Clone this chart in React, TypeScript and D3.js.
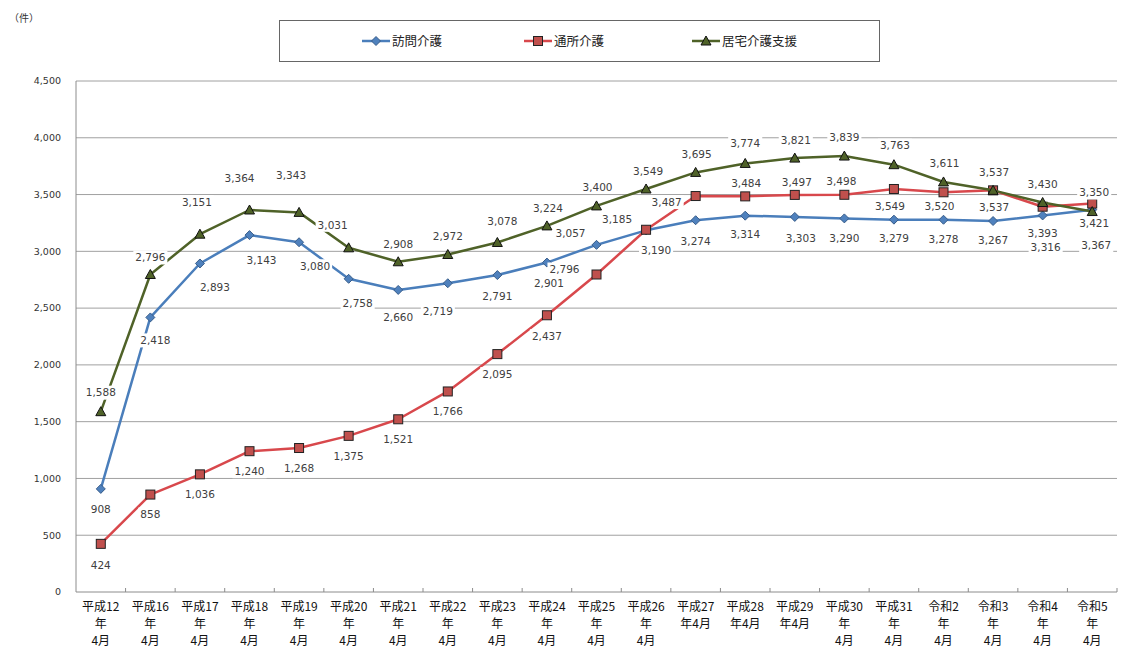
import * as d3 from 'd3'

const WIDTH = 1121
const HEIGHT = 654
const PLOT = { left: 76, right: 1117, top: 81, bottom: 592 }

const CATEGORIES = [
  ['平成12', '年', '4月'],
  ['平成16', '年', '4月'],
  ['平成17', '年', '4月'],
  ['平成18', '年', '4月'],
  ['平成19', '年', '4月'],
  ['平成20', '年', '4月'],
  ['平成21', '年', '4月'],
  ['平成22', '年', '4月'],
  ['平成23', '年', '4月'],
  ['平成24', '年', '4月'],
  ['平成25', '年', '4月'],
  ['平成26', '年', '4月'],
  ['平成27', '年4月'],
  ['平成28', '年4月'],
  ['平成29', '年4月'],
  ['平成30', '年', '4月'],
  ['平成31', '年', '4月'],
  ['令和2', '年', '4月'],
  ['令和3', '年', '4月'],
  ['令和4', '年', '4月'],
  ['令和5', '年', '4月'],
]

const HOMON = [908, 2418, 2893, 3143, 3080, 2758, 2660, 2719, 2791, 2901, 3057, 3185, 3274, 3314, 3303, 3290, 3279, 3278, 3267, 3316, 3367]
const TSUSHO = [424, 858, 1036, 1240, 1268, 1375, 1521, 1766, 2095, 2437, 2796, 3190, 3487, 3484, 3497, 3498, 3549, 3520, 3537, 3393, 3421]
const KYOTAKU = [1588, 2796, 3151, 3364, 3343, 3031, 2908, 2972, 3078, 3224, 3400, 3549, 3695, 3774, 3821, 3839, 3763, 3611, 3537, 3430, 3350]

const Y_TICKS = [0, 500, 1000, 1500, 2000, 2500, 3000, 3500, 4000, 4500]

// label placement (dx, dy from the point)
const HOMON_LABEL_POS = [[0, 20], [5, 23], [15, 24], [12, 25], [16, 24], [9, 24], [0, 27], [-10, 28], [0, 21], [2, 21], [-26, -12], [-29, -11], [0, 21], [0, 19], [6, 21], [0, 20], [0, 19], [0, 19], [0, 19], [3, 32], [4, 36]]
const TSUSHO_LABEL_POS = [[0, 21], [0, 20], [0, 20], [0, 20], [0, 20], [0, 20], [0, 20], [0, 20], [0, 20], [0, 21], [-32, -5], [10, 20], [-29, 6], [1, -13], [2, -13], [-3, -14], [-4, 17], [-4, 14], [1, 17], [0, 27], [2, 20]]
const KYOTAKU_LABEL_POS = [[0, -19], [0, -17], [-3, -32], [-10, -32], [-8, -37], [-16, -23], [0, -18], [0, -18], [5, -21], [1, -18], [1, -19], [2, -18], [1, -18], [0, -20], [1, -18], [0, -19], [1, -19], [1, -19], [1, -18], [0, -18], [2, -19]]

type Marker = 'diamond' | 'square' | 'triangle'

const SERIES = [
  { name: '訪問介護', values: HOMON, labelPos: HOMON_LABEL_POS, line: '#4A7EBB', fill: '#4F81BD', edge: '#385D8A', marker: 'diamond' as Marker, legendX: 362 },
  { name: '通所介護', values: TSUSHO, labelPos: TSUSHO_LABEL_POS, line: '#D8484C', fill: '#C0504D', edge: '#222', marker: 'square' as Marker, legendX: 524 },
  { name: '居宅介護支援', values: KYOTAKU, labelPos: KYOTAKU_LABEL_POS, line: '#4F6228', fill: '#4F6228', edge: '#111', marker: 'triangle' as Marker, legendX: 692 },
]

const NUM_FONT = '"DejaVu Sans", Verdana, sans-serif'
const JP_FONT = '"Noto Sans CJK JP", "Noto Sans", sans-serif'

const fmt = d3.format(',')

function MarkerShape({ type, x, y, fill, edge }: { type: Marker; x: number; y: number; fill: string; edge: string }) {
  if (type === 'diamond') {
    const s = 4.5
    return <path d={`M${x},${y - s}L${x + s},${y}L${x},${y + s}L${x - s},${y}Z`} fill={fill} stroke={edge} strokeWidth={1} />
  }
  if (type === 'square') {
    const s = 4.5
    return <rect x={x - s} y={y - s} width={s * 2} height={s * 2} fill={fill} stroke={edge} strokeWidth={1} />
  }
  const s = 5
  return <path d={`M${x},${y - s}L${x + s},${y + s * 0.8}L${x - s},${y + s * 0.8}Z`} fill={fill} stroke={edge} strokeWidth={1} />
}

function textWidth(s: string) {
  // DejaVu Sans at 10.5px: digits ~6.7px, comma ~3.3px
  let w = 0
  for (const c of s) w += c === ',' ? 3.3 : 6.7
  return w
}

export default function App() {
  const x = d3
    .scaleBand<number>()
    .domain(d3.range(CATEGORIES.length))
    .range([PLOT.left, PLOT.right])
  const cx = (i: number) => (x(i) ?? 0) + x.bandwidth() / 2

  const y = d3.scaleLinear().domain([0, 4500]).range([PLOT.bottom, PLOT.top])

  const line = d3
    .line<number>()
    .x((_, i) => cx(i))
    .y((v) => y(v))

  const boundaries = d3.range(1, CATEGORIES.length + 1).map((i) => PLOT.left + i * x.bandwidth())

  return (
    <div style={{ position: 'absolute', left: 0, top: 0 }}>
      <svg width={WIDTH} height={HEIGHT} viewBox={`0 0 ${WIDTH} ${HEIGHT}`} style={{ display: 'block', background: '#fff' }}>
        {/* unit */}
        <text x={9} y={22} fontFamily={JP_FONT} fontSize={10} fill="#333">
          （件）
        </text>

        {/* legend */}
        <rect x={279.5} y={20.5} width={600} height={41} fill="#fff" stroke="#666" strokeWidth={1} />
        {SERIES.map((s) => (
          <g key={s.name}>
            <line x1={s.legendX} x2={s.legendX + 28} y1={41} y2={41} stroke={s.line} strokeWidth={2.5} />
            <MarkerShape type={s.marker} x={s.legendX + 14} y={41} fill={s.fill} edge={s.edge} />
            <text x={s.legendX + 30} y={41} dy="0.36em" fontFamily={JP_FONT} fontSize={12.5} fill="#222">
              {s.name}
            </text>
          </g>
        ))}

        {/* grid */}
        {Y_TICKS.filter((t) => t > 0).map((t) => (
          <line key={t} x1={PLOT.left} x2={PLOT.right} y1={y(t)} y2={y(t)} stroke="#A0A0A0" strokeWidth={1} />
        ))}
        <line x1={PLOT.left} x2={PLOT.left} y1={PLOT.top} y2={PLOT.bottom} stroke="#8C8C8C" strokeWidth={1} />
        <line x1={PLOT.left} x2={PLOT.right} y1={PLOT.bottom} y2={PLOT.bottom} stroke="#8C8C8C" strokeWidth={1} />
        {boundaries.map((bx, i) => (
          <line key={i} x1={bx} x2={bx} y1={PLOT.bottom} y2={PLOT.bottom - 4} stroke="#8C8C8C" strokeWidth={1} />
        ))}

        {/* y tick labels */}
        {Y_TICKS.map((t) => (
          <text key={t} x={61} y={y(t)} dy="0.35em" textAnchor="end" fontFamily={NUM_FONT} fontSize={9.5} fill="#333">
            {fmt(t)}
          </text>
        ))}

        {/* x tick labels */}
        {CATEGORIES.map((lines, i) => (
          <text key={i} x={cx(i)} y={611} textAnchor="middle" fontFamily={JP_FONT} fontSize={12} fill="#111">
            {lines.map((l, j) => (
              <tspan key={j} x={cx(i)} dy={j === 0 ? 0 : 17}>
                {l}
              </tspan>
            ))}
          </text>
        ))}

        {/* series */}
        {SERIES.map((s) => (
          <g key={s.name}>
            <path d={line(s.values) ?? ''} fill="none" stroke={s.line} strokeWidth={2.5} strokeLinejoin="round" />
            {s.values.map((v, i) => (
              <MarkerShape key={i} type={s.marker} x={cx(i)} y={y(v)} fill={s.fill} edge={s.edge} />
            ))}
          </g>
        ))}

        {/* data labels */}
        {SERIES.map((s) =>
          s.values.map((v, i) => {
            const [dx, dy] = s.labelPos[i]
            const lx = cx(i) + dx
            const ly = y(v) + dy
            const label = fmt(v)
            const w = textWidth(label) + 4
            return (
              <g key={`${s.name}-${i}`}>
                <rect x={lx - w / 2} y={ly - 7} width={w} height={14} fill="#fff" />
                <text x={lx} y={ly} dy="0.36em" textAnchor="middle" fontFamily={NUM_FONT} fontSize={10.5} fill="#404040">
                  {label}
                </text>
              </g>
            )
          })
        )}
      </svg>
    </div>
  )
}
